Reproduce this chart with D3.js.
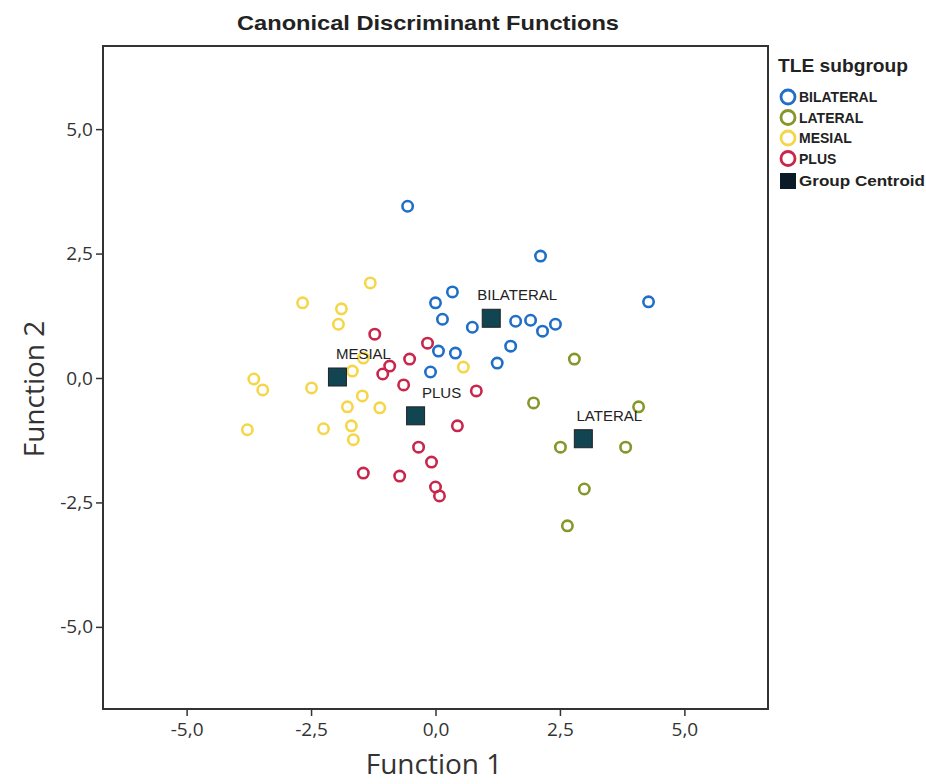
<!DOCTYPE html>
<html>
<head>
<meta charset="utf-8">
<script src="https://cdn.jsdelivr.net/npm/d3@7"></script>
<style>
  body { margin: 0; background: #fff; }
  svg { display: block; }
  .tick text { font-family: "Open Sans", sans-serif; font-size: 19px; fill: #333; }
  .tick line { stroke: #333; stroke-width: 1.5; }
</style>
</head>
<body>
<svg width="926" height="784"></svg>
<script>
const svg = d3.select("svg");

// group order as in the legend
const groups = ["BILATERAL", "LATERAL", "MESIAL", "PLUS"];
const groupColors = ["#1f6fc8", "#86962a", "#f6d649", "#c9264c"];

// Function 1 / Function 2 scores per group
const bilateral = [
  [-0.56, 3.45], [2.11, 2.45], [4.28, 1.53], [0.0, 1.51], [0.34, 1.73],
  [0.14, 1.18], [0.74, 1.02], [1.61, 1.14], [1.91, 1.16], [2.15, 0.94],
  [2.41, 1.08], [1.51, 0.64], [1.24, 0.30], [0.06, 0.54], [0.40, 0.50],
  [-0.10, 0.12]
];
const lateral = [
  [2.79, 0.38], [1.97, -0.50], [4.08, -0.58], [2.51, -1.39], [3.82, -1.39],
  [2.99, -2.23], [2.65, -2.97]
];
const mesial = [
  [-1.31, 1.91], [-2.67, 1.51], [-1.89, 1.39], [-1.95, 1.08], [-3.65, -0.02],
  [-3.47, -0.24], [-2.49, -0.20], [-1.67, 0.14], [-1.45, 0.40], [-1.47, -0.36],
  [-1.77, -0.58], [-1.12, -0.60], [-3.78, -1.04], [-2.25, -1.02], [-1.69, -0.96],
  [-1.65, -1.24], [0.56, 0.22]
];
const plus = [
  [-1.22, 0.88], [-0.16, 0.70], [-0.52, 0.38], [-0.92, 0.24], [-1.06, 0.08],
  [-0.64, -0.14], [0.82, -0.26], [0.44, -0.96], [-0.34, -1.39], [-0.08, -1.69],
  [-1.45, -1.91], [-0.72, -1.97], [0.0, -2.19], [0.08, -2.37]
];
const seriesPoints = [bilateral, lateral, mesial, plus];

// group centroids
const centroidNames = ["BILATERAL", "MESIAL", "PLUS", "LATERAL"];
const centroids = [[1.12, 1.20], [-1.97, 0.02], [-0.40, -0.76], [2.97, -1.22]];

const tickValues = [-5, -2.5, 0, 2.5, 5];

const plot = { left: 103, right: 768, top: 46, bottom: 709 };

const xScale = d3.scaleLinear().domain([-6.68, 6.68]).range([plot.left, plot.right]);
const yScale = d3.scaleLinear().domain([-6.65, 6.67]).range([plot.bottom, plot.top]);

const locale = d3.formatLocale({ decimal: ",", thousands: ".", grouping: [3], currency: ["", ""], minus: "-" });
const fmt = locale.format(".1f");

// title
svg.append("text")
  .attr("x", 428).attr("y", 30)
  .attr("text-anchor", "middle")
  .attr("font-family", "Liberation Sans, sans-serif")
  .attr("font-weight", "bold")
  .attr("font-size", 21)
  .attr("textLength", 382)
  .attr("lengthAdjust", "spacingAndGlyphs")
  .attr("fill", "#222")
  .text("Canonical Discriminant Functions");

// axes
const xAxisG = svg.append("g")
  .attr("transform", `translate(0, ${plot.bottom})`)
  .call(d3.axisBottom(xScale).tickValues(tickValues).tickFormat(fmt).tickSize(7).tickSizeOuter(0).tickPadding(7));
xAxisG.select(".domain").remove();

const yAxisG = svg.append("g")
  .attr("transform", `translate(${plot.left}, 0)`)
  .call(d3.axisLeft(yScale).tickValues(tickValues).tickFormat(fmt).tickSize(7).tickSizeOuter(0).tickPadding(3));
yAxisG.select(".domain").remove();

// frame
svg.append("rect")
  .attr("x", plot.left).attr("y", plot.top)
  .attr("width", plot.right - plot.left)
  .attr("height", plot.bottom - plot.top)
  .attr("fill", "none")
  .attr("stroke", "#333")
  .attr("stroke-width", 2);

// axis titles
svg.append("text")
  .attr("x", 434).attr("y", 774)
  .attr("text-anchor", "middle")
  .attr("font-family", "Open Sans, sans-serif")
  .attr("font-size", 28)
  .attr("fill", "#333")
  .text("Function 1");

svg.append("text")
  .attr("transform", `translate(44, 389) rotate(-90)`)
  .attr("text-anchor", "middle")
  .attr("font-family", "Open Sans, sans-serif")
  .attr("font-size", 28)
  .attr("fill", "#333")
  .text("Function 2");

// points
const g = svg.append("g");
seriesPoints.forEach((pts, i) => {
  g.selectAll(null)
    .data(pts)
    .enter()
    .append("circle")
    .attr("cx", (d) => xScale(d[0]))
    .attr("cy", (d) => yScale(d[1]))
    .attr("r", 5.2)
    .attr("fill", "none")
    .attr("stroke", groupColors[i])
    .attr("stroke-width", 2.6);
});

// centroids
const cg = svg.append("g");
cg.selectAll("rect")
  .data(centroids)
  .enter()
  .append("rect")
  .attr("x", (d) => xScale(d[0]) - 9)
  .attr("y", (d) => yScale(d[1]) - 9)
  .attr("width", 18)
  .attr("height", 18)
  .attr("fill", "#114552")
  .attr("stroke", "#222")
  .attr("stroke-width", 1);

cg.selectAll("text")
  .data(centroids)
  .enter()
  .append("text")
  .attr("x", (d) => xScale(d[0]) + 26)
  .attr("y", (d) => yScale(d[1]) - 18)
  .attr("text-anchor", "middle")
  .attr("font-family", "Liberation Sans, sans-serif")
  .attr("font-size", 15)
  .attr("fill", "#222")
  .text((d, i) => centroidNames[i]);

// legend
const legend = svg.append("g").attr("transform", "translate(778, 0)");
legend.append("text")
  .attr("x", 0).attr("y", 72)
  .attr("font-family", "Liberation Sans, sans-serif")
  .attr("font-weight", "bold")
  .attr("font-size", 18)
  .attr("textLength", 130)
  .attr("lengthAdjust", "spacingAndGlyphs")
  .attr("fill", "#222")
  .text("TLE subgroup");

const items = legend.selectAll("g.item")
  .data(groups)
  .enter()
  .append("g")
  .attr("class", "item")
  .attr("transform", (d, i) => `translate(0, ${97 + i * 20.5})`);

items.append("circle")
  .attr("cx", 10).attr("cy", 0)
  .attr("r", 7)
  .attr("fill", "none")
  .attr("stroke", (d, i) => groupColors[i])
  .attr("stroke-width", 2.8);

items.append("text")
  .attr("x", 21).attr("y", 5)
  .attr("font-family", "Liberation Sans, sans-serif")
  .attr("font-weight", "bold")
  .attr("font-size", 14)
  .attr("fill", "#222")
  .text((d) => d);

legend.append("rect")
  .attr("x", 2).attr("y", 173)
  .attr("width", 16).attr("height", 16)
  .attr("fill", "#0b1a27");

legend.append("text")
  .attr("x", 21).attr("y", 186)
  .attr("font-family", "Liberation Sans, sans-serif")
  .attr("font-weight", "bold")
  .attr("font-size", 14)
  .attr("textLength", 126)
  .attr("lengthAdjust", "spacingAndGlyphs")
  .attr("fill", "#222")
  .text("Group Centroid");
</script>
</body>
</html>
